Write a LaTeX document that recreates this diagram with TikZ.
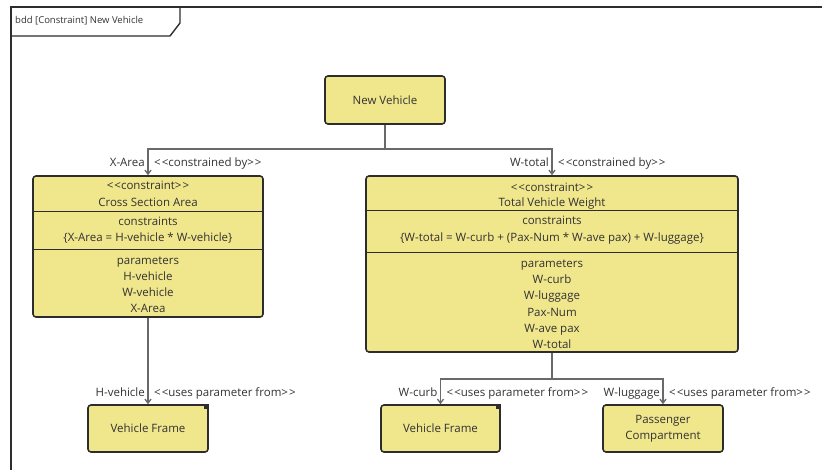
\documentclass[tikz,border=0pt]{standalone}
\usepackage{fontspec}
\setmainfont{Open Sans}
\usetikzlibrary{arrows.meta}
\definecolor{boxfill}{RGB}{240,230,140}
\definecolor{boxline}{RGB}{45,45,45}
\definecolor{connc}{RGB}{105,105,105}
\definecolor{txt}{RGB}{50,50,50}
\newcommand\gopen{<\kern1pt<}
\newcommand\gclose{>\kern1pt>}
\begin{document}
\begin{tikzpicture}[x=1pt,y=-1pt,
  block/.style={draw=boxline, line width=1.6pt, fill=boxfill, rounded corners=3pt, inner sep=0pt, align=center, font=\fontsize{11.5}{16}\selectfont, text=txt},
  lbl/.style={font=\fontsize{11.5}{13}\selectfont, text=txt, inner sep=0pt, text height=8.5pt, text depth=2.5pt, yshift=-1.5pt},
  ttl/.style={font=\fontsize{9.5}{11}\selectfont, text=txt, inner sep=0pt},
  conn/.style={draw=connc, line width=1.3pt},
  arr/.style={conn, -{Straight Barb[length=4pt,width=6pt]}},
  sepline/.style={draw=boxline, line width=1pt},
  framel/.style={draw=boxline, line width=1.4pt}
]
\useasboundingbox (0,0) rectangle (822,470);
% frame
\coordinate (f0) at (11,470);
\coordinate (f1) at (11,7);
\coordinate (f2) at (822,7);
\draw[framel] (f0) -- (f1) -- (f2);
\coordinate (t0) at (11,36);
\coordinate (t1) at (170,36);
\coordinate (t2) at (180,23);
\coordinate (t3) at (180,7);
\draw[framel] (t0) -- (t1) -- (t2) -- (t3);
\node[ttl, anchor=west] (title) at (15,21) {bdd [Constraint] New Vehicle};

% blocks
\node[block, minimum width=120pt, minimum height=48pt] (nv) at (385,100) {New Vehicle};
\node[block, minimum width=230pt, minimum height=141pt] (csa) at (148,246.5) {};
\node[block, minimum width=372pt, minimum height=176pt] (tvw) at (552,264) {};
\node[block, minimum width=120pt, minimum height=47pt] (vf1) at (148,428.5) {Vehicle Frame};
\node[block, minimum width=119pt, minimum height=47pt] (vf2) at (440.5,428.5) {Vehicle Frame};
\node[block, minimum width=120pt, minimum height=47pt] (pc) at (663,428.5) {Passenger\\Compartment};

% corner marks
\fill[boxline] (vf1.north east) ++(-5,0) rectangle ++(5,5);
\fill[boxline] (vf2.north east) ++(-5,0) rectangle ++(5,5);

% separators
\coordinate (s1) at (0,212);
\coordinate (s2) at (0,250);
\coordinate (s3) at (0,211);
\coordinate (s4) at (0,253);
\draw[sepline] (csa.west |- s1) -- (csa.east |- s1);
\draw[sepline] (csa.west |- s2) -- (csa.east |- s2);
\draw[sepline] (tvw.west |- s3) -- (tvw.east |- s3);
\draw[sepline] (tvw.west |- s4) -- (tvw.east |- s4);

% csa texts
\node[lbl] (c1) at (148,185) {\gopen constraint\gclose};
\node[lbl] (c2) at (148,202) {Cross Section Area};
\node[lbl] (c3) at (148,221) {constraints};
\node[lbl] (c4) at (148,237) {\{X-Area = H-vehicle * W-vehicle\}};
\node[lbl] (c5) at (148,260) {parameters};
\node[lbl] (c6) at (148,276) {H-vehicle};
\node[lbl] (c7) at (148,292) {W-vehicle};
\node[lbl] (c8) at (148,308) {X-Area};

% tvw texts
\node[lbl] (w1) at (552,187) {\gopen constraint\gclose};
\node[lbl] (w2) at (552,202) {Total Vehicle Weight};
\node[lbl] (w3) at (552,220) {constraints};
\node[lbl] (w4) at (552,237) {\{W-total = W-curb + (Pax-Num * W-ave pax) + W-luggage\}};
\node[lbl] (w5) at (552,263) {parameters};
\node[lbl] (w6) at (552,279) {W-curb};
\node[lbl] (w7) at (552,295) {W-luggage};
\node[lbl] (w8) at (552,312) {Pax-Num};
\node[lbl] (w9) at (552,328) {W-ave pax};
\node[lbl] (w10) at (552,344) {W-total};

% connectors
\coordinate (j1) at (385,149);
\draw[conn] (nv.south) -- (j1);
\draw[arr] (j1) -| (csa.north);
\draw[arr] (j1) -| (tvw.north);
\draw[arr] (csa.south) -- (vf1.north);
\coordinate (j2) at (552,379);
\draw[conn] (tvw.south) -- (j2);
\draw[arr] (j2) -| (vf2.north);
\draw[arr] (j2) -| (pc.north);

% connector labels
\node[lbl, anchor=east] (l1) at (145,162) {X-Area};
\node[lbl, anchor=west] (l2) at (154,162) {\gopen constrained by\gclose};
\node[lbl, anchor=east] (l3) at (549,162) {W-total};
\node[lbl, anchor=west] (l4) at (558,162) {\gopen constrained by\gclose};
\node[lbl, anchor=east] (l5) at (145,392) {H-vehicle};
\node[lbl, anchor=west] (l6) at (154,392) {\gopen uses parameter from\gclose};
\node[lbl, anchor=east] (l7) at (437.5,392) {W-curb};
\node[lbl, anchor=west] (l8) at (446.5,392) {\gopen uses parameter from\gclose};
\node[lbl, anchor=east] (l9) at (660,392) {W-luggage};
\node[lbl, anchor=west] (l10) at (669,392) {\gopen uses parameter from\gclose};
\end{tikzpicture}
\end{document}
